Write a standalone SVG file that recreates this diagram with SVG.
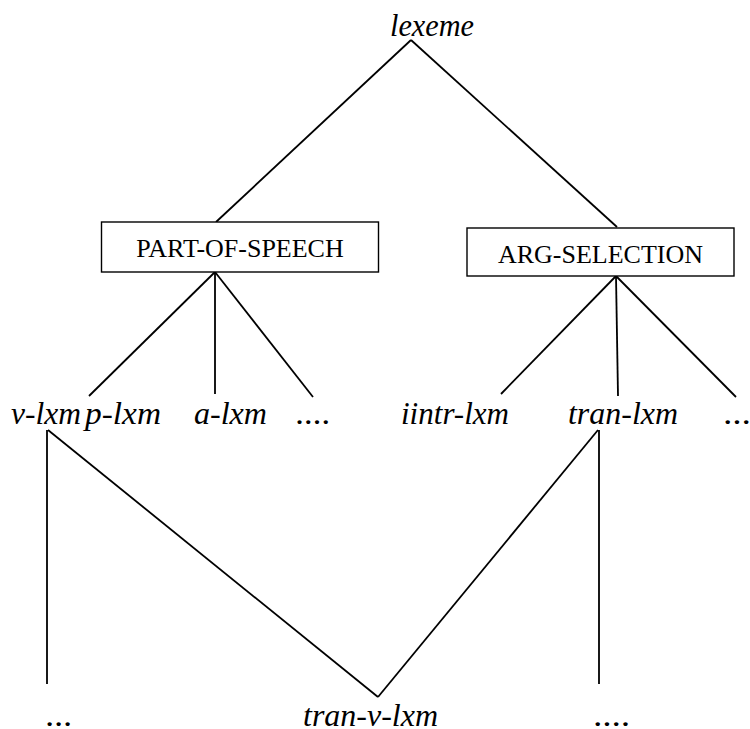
<svg xmlns="http://www.w3.org/2000/svg" width="750" height="729" viewBox="0 0 750 729">
  <style>
    .type { font-family: "Liberation Serif", "Times New Roman", serif; font-style: italic; font-size: 31px; fill: #000; }
    .head { font-size: 32px; }
    .box rect { fill: #fff; stroke: #000; stroke-width: 1.4; }
    .box text { font-family: "Liberation Serif", "Times New Roman", serif; font-size: 26px; fill: #000; text-anchor: middle; }
    #edges line { stroke: #000; stroke-width: 1.8; stroke-linecap: butt; }
  </style>
  <rect width="750" height="729" fill="#fff"/>

  <!-- hierarchy links -->
  <g id="edges">
    <line x1="411" y1="40" x2="216" y2="222"/>
    <line x1="411" y1="40" x2="617" y2="227"/>
    <line x1="215" y1="272" x2="89" y2="396"/>
    <line x1="215" y1="272" x2="215" y2="394"/>
    <line x1="215" y1="272" x2="313" y2="397"/>
    <line x1="616" y1="276" x2="501" y2="394"/>
    <line x1="616" y1="276" x2="618" y2="396"/>
    <line x1="616" y1="276" x2="736" y2="397"/>
    <line x1="47" y1="430" x2="47" y2="684"/>
    <line x1="48" y1="430" x2="378" y2="697"/>
    <line x1="598" y1="430" x2="378" y2="697"/>
    <line x1="599" y1="430" x2="599" y2="684"/>
  </g>

  <g id="lexeme"><text class="type head" x="390" y="36" textLength="84" lengthAdjust="spacingAndGlyphs">lexeme</text></g>

  <g id="part-of-speech" class="box">
    <rect x="101.5" y="222" width="277" height="50"/>
    <text x="240" y="257">PART-OF-SPEECH</text>
  </g>
  <g id="arg-selection" class="box">
    <rect x="467" y="228" width="267" height="48"/>
    <text x="600.5" y="263">ARG-SELECTION</text>
  </g>

  <g id="v-lxm"><text class="type" x="11" y="424" textLength="70" lengthAdjust="spacingAndGlyphs">v-lxm</text></g>
  <g id="p-lxm"><text class="type" x="85" y="424" textLength="76" lengthAdjust="spacingAndGlyphs">p-lxm</text></g>
  <g id="a-lxm"><text class="type" x="194" y="424" textLength="73" lengthAdjust="spacingAndGlyphs">a-lxm</text></g>
  <g id="pos-more"><text class="type" x="296" y="424" textLength="35" lengthAdjust="spacingAndGlyphs">....</text></g>
  <g id="iintr-lxm"><text class="type" x="401" y="424" textLength="108" lengthAdjust="spacingAndGlyphs">iintr-lxm</text></g>
  <g id="tran-lxm"><text class="type" x="568" y="424" textLength="110" lengthAdjust="spacingAndGlyphs">tran-lxm</text></g>
  <g id="arg-more"><text class="type" x="724" y="424" textLength="37" lengthAdjust="spacingAndGlyphs">....</text></g>

  <g id="v-more"><text class="type" x="46" y="726" textLength="27" lengthAdjust="spacingAndGlyphs">...</text></g>
  <g id="tran-v-lxm"><text class="type" x="303" y="726" textLength="135" lengthAdjust="spacingAndGlyphs">tran-v-lxm</text></g>
  <g id="tran-more"><text class="type" x="594" y="726" textLength="37" lengthAdjust="spacingAndGlyphs">....</text></g>
</svg>
